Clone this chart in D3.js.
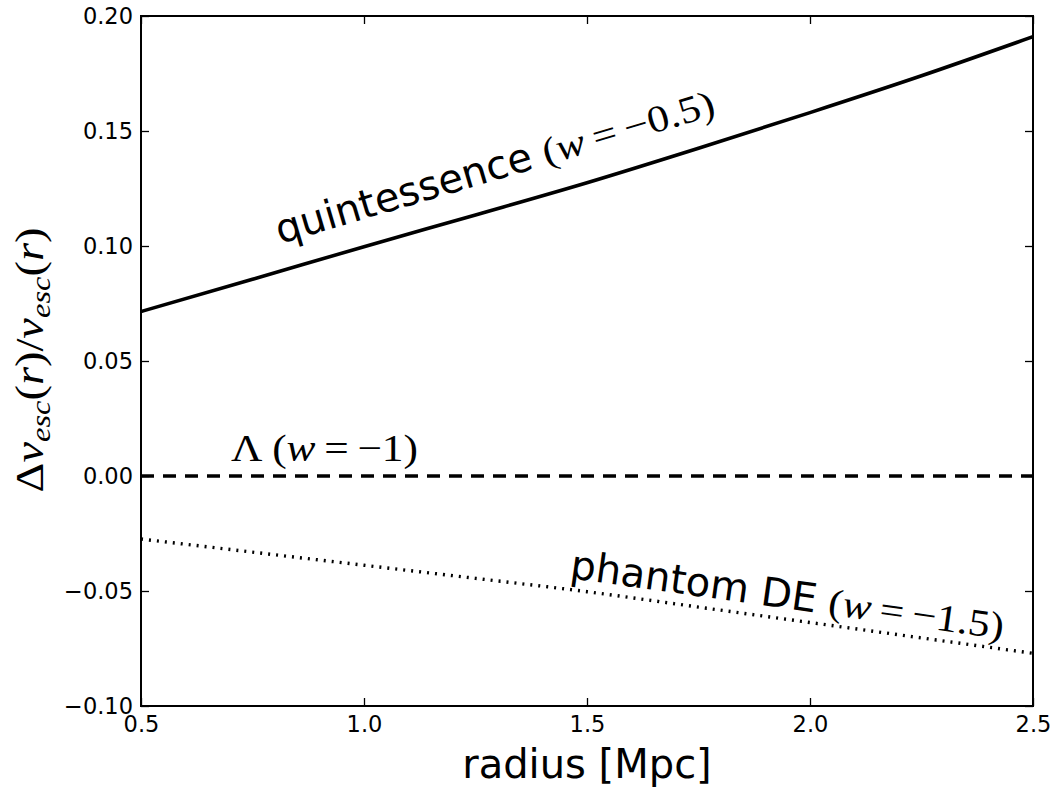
<!DOCTYPE html>
<html>
<head>
<meta charset="utf-8">
<script src="https://cdn.jsdelivr.net/npm/d3@7"></script>
<style>
  html, body { margin: 0; padding: 0; background: #fff; }
  svg { display: block; }
  .tick text { font-family: "DejaVu Sans", sans-serif; }
</style>
</head>
<body>
<svg id="chart" width="1059" height="789"></svg>
<script>
// Radius grid (Mpc) and fractional escape-velocity shifts for each dark-energy model
const radius = [0.5, 0.75, 1.0, 1.25, 1.5, 1.75, 2.0, 2.25, 2.5];
const quintessence = [0.0715, 0.0855, 0.0997, 0.1135, 0.1275, 0.1425, 0.158, 0.174, 0.191];
const lambdaModel = [0, 0, 0, 0, 0, 0, 0, 0, 0];
const phantom = [-0.0274, -0.0331, -0.0388, -0.0445, -0.0503, -0.0570, -0.0637, -0.0704, -0.0771];

const xTicks = [0.5, 1.0, 1.5, 2.0, 2.5];
const yTicks = [-0.10, -0.05, 0.00, 0.05, 0.10, 0.15, 0.20];

const W = 1059, H = 789;
const margin = { left: 141, top: 16, right: 26, bottom: 83 };
const iw = W - margin.left - margin.right;
const ih = H - margin.top - margin.bottom;

const svg = d3.select("#chart");
const g = svg.append("g").attr("transform", `translate(${margin.left},${margin.top})`);

const x = d3.scaleLinear().domain([0.5, 2.5]).range([0, iw]);
const y = d3.scaleLinear().domain([-0.10, 0.20]).range([ih, 0]);

const minus = s => s.replace("-", "\u2212");
const fmtX = d => minus(d3.format(".1f")(d));
const fmtY = d => minus(d3.format(".2f")(d));

// Curves
const line = d3.line().x((d, i) => x(radius[i])).y(d => y(d)).curve(d3.curveMonotoneX);
g.append("clipPath").attr("id", "plotclip").append("rect").attr("width", iw).attr("height", ih);
const curves = g.append("g").attr("clip-path", "url(#plotclip)");
curves.append("path").datum(quintessence).attr("d", line)
  .attr("fill", "none").attr("stroke", "#000").attr("stroke-width", 3.6);
curves.append("path").datum(lambdaModel).attr("d", line)
  .attr("fill", "none").attr("stroke", "#000").attr("stroke-width", 3.6)
  .attr("stroke-dasharray", "13,9");
curves.append("path").datum(phantom).attr("d", line)
  .attr("fill", "none").attr("stroke", "#000").attr("stroke-width", 3.4)
  .attr("stroke-dasharray", "2,6");

// Axes with inward ticks on all four sides
function styleAxis(sel) {
  sel.select(".domain").remove();
  sel.selectAll(".tick line").attr("stroke", "#000").attr("stroke-width", 1.3);
  sel.selectAll(".tick text").attr("fill", "#000").style("font-size", "22.5px");
}
const tl = 8;
g.append("g").attr("transform", `translate(0,${ih})`)
  .call(d3.axisBottom(x).tickValues(xTicks).tickFormat(fmtX).tickSizeInner(-tl).tickSizeOuter(0).tickPadding(10))
  .call(styleAxis);
g.append("g")
  .call(d3.axisTop(x).tickValues(xTicks).tickFormat("").tickSizeInner(-tl).tickSizeOuter(0))
  .call(styleAxis);
g.append("g")
  .call(d3.axisLeft(y).tickValues(yTicks).tickFormat(fmtY).tickSizeInner(-tl).tickSizeOuter(0).tickPadding(8))
  .call(styleAxis);
g.append("g").attr("transform", `translate(${iw},0)`)
  .call(d3.axisRight(y).tickValues(yTicks).tickFormat("").tickSizeInner(-tl).tickSizeOuter(0))
  .call(styleAxis);

// Frame
g.append("rect").attr("width", iw).attr("height", ih)
  .attr("fill", "none").attr("stroke", "#000").attr("stroke-width", 2);

// Axis titles
svg.append("text").attr("x", margin.left + iw / 2).attr("y", 778)
  .attr("text-anchor", "middle")
  .style("font-family", "DejaVu Sans, sans-serif").style("font-size", "40px")
  .text("radius [Mpc]");

const serif = "Liberation Serif, serif";
const yl = svg.append("text")
  .attr("transform", "translate(43,360) rotate(-90)")
  .attr("text-anchor", "middle")
  .attr("textLength", 265).attr("lengthAdjust", "spacingAndGlyphs")
  .style("font-family", serif).style("font-size", "40px");
yl.append("tspan").text("\u0394");
yl.append("tspan").style("font-style", "italic").text("v");
yl.append("tspan").style("font-style", "italic").style("font-size", "28px").attr("dy", 7).text("esc");
yl.append("tspan").attr("dy", -7).text("(");
yl.append("tspan").style("font-style", "italic").text("r");
yl.append("tspan").text(")/");
yl.append("tspan").style("font-style", "italic").text("v");
yl.append("tspan").style("font-style", "italic").style("font-size", "28px").attr("dy", 7).text("esc");
yl.append("tspan").attr("dy", -7).text("(");
yl.append("tspan").style("font-style", "italic").text("r");
yl.append("tspan").text(")");

// Math fragment "(w = value)" set in a serif face and stretched to a given width
function mathPart(parent, x0, value, len, size) {
  const t = parent.append("text").attr("x", x0).attr("y", 0)
    .attr("textLength", len).attr("lengthAdjust", "spacingAndGlyphs")
    .style("font-family", serif).style("font-size", size + "px");
  t.append("tspan").text("(");
  t.append("tspan").style("font-style", "italic").text("w");
  t.append("tspan").text("\u2009=\u2009\u2212" + value + ")");
  return t;
}

// Curve annotations: sans-serif name followed by the equation of state
function label(tx, ty, angle, name, value, mathLen) {
  const grp = svg.append("g").attr("transform", `translate(${tx},${ty}) rotate(${angle})`);
  const s = grp.append("text").attr("x", 0).attr("y", 0)
    .style("font-family", "DejaVu Sans, sans-serif").style("font-size", "40px").text(name);
  const w = s.node().getComputedTextLength();
  mathPart(grp, w + 12, value, mathLen, 38);
}
label(280, 244, -16.5, "quintessence", "0.5", 178);
label(569, 578, 8, "phantom DE", "1.5", 177);

const lamG = svg.append("g").attr("transform", "translate(231,461)");
const lam = lamG.append("text").attr("x", 0).attr("y", 0)
  .attr("textLength", 187).attr("lengthAdjust", "spacingAndGlyphs")
  .style("font-size", "38px").style("font-family", serif);
lam.append("tspan").text("\u039B (");
lam.append("tspan").style("font-style", "italic").text("w");
lam.append("tspan").text("\u2009=\u2009\u22121)");
</script>
</body>
</html>
